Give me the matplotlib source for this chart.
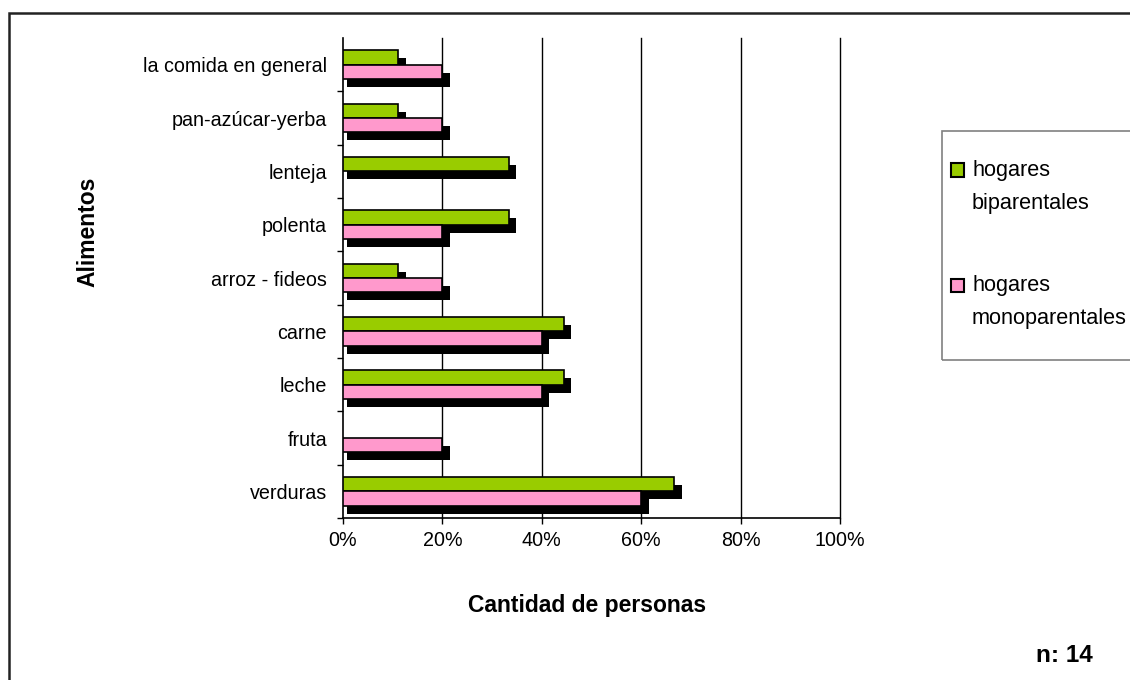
import matplotlib.pyplot as plt
import numpy as np
from matplotlib.patches import Rectangle

plt.rcParams['font.family'] = ['Liberation Sans', 'DejaVu Sans']

# Data (bottom to top)
alimentos = ['verduras', 'fruta', 'leche', 'carne', 'arroz - fideos',
             'polenta', 'lenteja', 'pan-azúcar-yerba', 'la comida en general']
biparentales = [66.7, 0, 44.4, 44.4, 11.1, 33.3, 33.3, 11.1, 11.1]
monoparentales = [60, 20, 40, 40, 20, 20, 0, 20, 20]
x_ticks = [0, 20, 40, 60, 80, 100]

verde = '#99CC00'
rosa = '#FF99CC'

W, H = 1130, 680
fig = plt.figure(figsize=(W / 100, H / 100), dpi=100)

def fx(px):
    return px / W

def fy(py):
    return 1 - py / H

ax = fig.add_axes([fx(343), fy(518), fx(840) - fx(343), fy(38) - fy(518)])

y = np.arange(len(alimentos))
bip = np.array(biparentales)
mono = np.array(monoparentales)
h = 0.27
off = 0.135
sdx, sdw, sdy = 0.9, 0.6, 0.15

# shadows
ax.barh(y + off - sdy, np.where(bip > 0, bip + sdw, 0), left=sdx, height=h,
        color='black', zorder=2)
ax.barh(y - off - sdy, np.where(mono > 0, mono + sdw, 0), left=sdx, height=h,
        color='black', zorder=2)
# bars
ax.barh(y + off, np.where(bip > 0, bip, np.nan), height=h, color=verde,
        edgecolor='black', linewidth=1.2, zorder=3)
ax.barh(y - off, np.where(mono > 0, mono, np.nan), height=h, color=rosa,
        edgecolor='black', linewidth=1.2, zorder=3)

ax.set_xlim(0, 100)
ax.set_ylim(-0.5, len(alimentos) - 0.5)
ax.set_xticks(x_ticks)
ax.set_xticklabels([f'{t}%' for t in x_ticks], fontsize=14.2)
ax.set_yticks(y)
ax.set_yticklabels(alimentos, fontsize=14.2)
ax.set_yticks(np.arange(len(alimentos)) - 0.5, minor=True)
ax.tick_params(axis='y', which='major', length=0, pad=11.5)
ax.tick_params(axis='y', which='minor', length=4, width=1, direction='out')
ax.tick_params(axis='x', length=4, width=1, direction='out', pad=5)

for t in x_ticks[1:]:
    ax.axvline(t, color='black', linewidth=1, zorder=1, clip_on=False)

for s in ['top', 'right']:
    ax.spines[s].set_visible(False)
ax.spines['left'].set_linewidth(1.2)
ax.spines['bottom'].set_linewidth(1.2)

fig.text(fx(587), fy(612), 'Cantidad de personas', fontsize=16.5,
         fontweight='bold', ha='center', va='baseline')
fig.text(fx(88), fy(232), 'Alimentos', fontsize=16.5, fontweight='bold',
         rotation=90, ha='center', va='center')
fig.text(fx(1036), fy(662), 'n: 14', fontsize=17.5, fontweight='bold',
         ha='left', va='baseline')

# outer border
fig.add_artist(Rectangle((fx(8.5), -0.1), 1.2, fy(12.5) + 0.1,
                         transform=fig.transFigure, fill=False,
                         edgecolor='#222222', linewidth=1.8, clip_on=False))

# legend
fig.add_artist(Rectangle((fx(942), fy(360)), 0.3, fy(131) - fy(360),
                         transform=fig.transFigure, fill=False,
                         edgecolor='#808080', linewidth=1.2, clip_on=False))
for color, y0, l1, l2 in [(verde, 163, 'hogares', 'biparentales'),
                          (rosa, 278, 'hogares', 'monoparentales')]:
    fig.add_artist(Rectangle((fx(951), fy(y0 + 14)), fx(13), fy(0) - fy(13.5),
                             transform=fig.transFigure, facecolor=color,
                             edgecolor='black', linewidth=1.5))
    fig.text(fx(972), fy(y0 + 13), l1, fontsize=15.6, va='baseline')
    fig.text(fx(972), fy(y0 + 46), l2, fontsize=15.6, va='baseline')

fig.savefig('out.png', dpi=100)
